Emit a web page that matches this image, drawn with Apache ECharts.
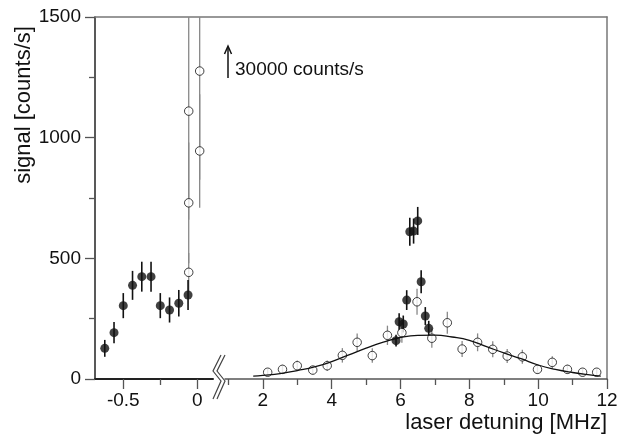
<!DOCTYPE html>
<html>
<head>
<meta charset="utf-8">
<script src="https://cdn.jsdelivr.net/npm/echarts@6/dist/echarts.min.js"></script>
<style>
  html, body { margin: 0; padding: 0; background: #fff; }
  #chart { width: 620px; height: 438px; }
</style>
</head>
<body>
<div id="chart"></div>
<script>
// left panel (near zero detuning)
const leftFilledX = [-0.625, -0.5625, -0.5, -0.4375, -0.375, -0.3125, -0.25, -0.1875, -0.125, -0.0625]
const leftFilledY = [127, 192, 304, 388, 424, 424, 304, 286, 314, 348]
const leftFilledErr = [35, 44, 52, 60, 62, 62, 52, 52, 55, 62]

const leftOpenX = [-0.058, -0.058, -0.058, 0.016, 0.016]
const leftOpenY = [442, 730, 1110, 945, 1276]
const leftOpenErr = [80, 250, 450, 235, 450]

// right panel
const rightOpenX = [2.14, 2.57, 3.00, 3.45, 3.87, 4.31, 4.74, 5.18, 5.62, 6.04, 6.48, 6.91, 7.36, 7.79, 8.24, 8.68, 9.10, 9.54, 9.98, 10.41, 10.85, 11.29, 11.70]
const rightOpenY = [28, 40, 55, 37, 55, 98, 152, 97, 181, 192, 320, 169, 233, 124, 152, 123, 95, 92, 40, 69, 40, 28, 28]
const rightOpenErr = [16, 19, 22, 18, 22, 30, 37, 30, 40, 42, 54, 39, 46, 33, 37, 33, 29, 29, 19, 25, 19, 16, 16]

const rightFilledX = [5.87, 5.96, 6.08, 6.18, 6.27, 6.38, 6.50, 6.60, 6.72, 6.82]
const rightFilledY = [159, 237, 228, 327, 610, 613, 655, 403, 261, 210]
const rightFilledErr = [24, 35, 35, 41, 58, 52, 58, 48, 37, 31]

// fitted curve
const fitX = [1.72, 2.0, 2.5, 3.0, 3.5, 4.0, 4.5, 5.0, 5.5, 6.0, 6.5, 7.0, 7.5, 8.0, 8.5, 9.0, 9.5, 10.0, 10.5, 11.0, 11.5, 11.82]
const fitY = [12, 15, 22, 35, 50, 72, 100, 128, 153, 172, 181, 182, 174, 160, 134, 108, 84, 58, 40, 27, 17, 12]

// tick labels
const leftMajorTicks = [-0.5, 0]
const leftMinorTicks = [-0.25]
const rightMajorTicks = [2, 4, 6, 8, 10, 12]
const rightMinorTicks = [1, 3, 5, 7, 9, 11]

const FONT = '"Liberation Sans", Arial, Helvetica, sans-serif'
const INK = '#111'

const toPoints = (xs, ys) => xs.map((x, i) => [x, ys[i]])
const toBars = (xs, ys, errs) => xs.map((x, i) => [x, ys[i] - errs[i], ys[i] + errs[i]])

// vertical error bar, cut at the plot frame
function barRenderer (color, width) {
  return function (params, api) {
    const cs = params.coordSys
    const top = api.coord([api.value(0), api.value(2)])
    const bot = api.coord([api.value(0), api.value(1)])
    return {
      type: 'line',
      shape: {
        x1: top[0],
        y1: Math.max(top[1], cs.y),
        x2: bot[0],
        y2: Math.min(bot[1], cs.y + cs.height)
      },
      style: { stroke: color, lineWidth: width }
    }
  }
}

function majorAxis (grid, min, max, ticks, lineColor, lineWidth) {
  return {
    gridIndex: grid,
    type: 'value',
    position: 'bottom',
    min: min,
    max: max,
    axisLine: { show: true, onZero: false, lineStyle: { color: lineColor, width: lineWidth } },
    axisTick: { show: true, length: 10, customValues: ticks, lineStyle: { color: '#555', width: 1.3 } },
    axisLabel: { customValues: ticks, margin: 12, fontSize: 19, color: INK, fontFamily: FONT },
    splitLine: { show: false }
  }
}

function minorAxis (grid, min, max, ticks) {
  return {
    gridIndex: grid,
    type: 'value',
    position: 'bottom',
    offset: 0,
    min: min,
    max: max,
    axisLine: { show: false, onZero: false },
    axisTick: { show: true, length: 6, customValues: ticks, lineStyle: { color: '#555', width: 1.3 } },
    axisLabel: { show: false },
    splitLine: { show: false }
  }
}

function frameAxis (position) {
  return {
    gridIndex: 2, type: 'value', min: 0, max: 1, position: position,
    axisLine: { show: true, onZero: false, lineStyle: { color: '#777', width: 1.5 } },
    axisTick: { show: false }, axisLabel: { show: false }, splitLine: { show: false }
  }
}

const yRange = { type: 'value', min: 0, max: 1500, interval: 500 }

const chart = echarts.init(document.getElementById('chart'))
chart.setOption({
  animation: false,
  backgroundColor: '#fff',
  grid: [
    { left: 95, top: 17, width: 118, height: 362, outerBoundsMode: 'none' },
    { left: 225, top: 17, width: 382, height: 362, outerBoundsMode: 'none' },
    { left: 95, top: 17, width: 512, height: 362, outerBoundsMode: 'none' }
  ],
  xAxis: [
    majorAxis(0, -0.691, 0.106, leftMajorTicks, '#222', 2),
    minorAxis(0, -0.691, 0.106, leftMinorTicks),
    majorAxis(1, 0.9, 12, rightMajorTicks, '#555', 1.5),
    minorAxis(1, 0.9, 12, rightMinorTicks),
    frameAxis('top')
  ],
  yAxis: [
    Object.assign({}, yRange, {
      gridIndex: 0,
      position: 'left',
      axisLine: { show: true, onZero: false, lineStyle: { color: '#222', width: 1.5 } },
      axisTick: { show: true, length: 10, lineStyle: { color: '#555', width: 1.3 } },
      minorTick: { show: true, splitNumber: 2, length: 6, lineStyle: { color: '#555', width: 1.3 } },
      axisLabel: { margin: 14, fontSize: 19, color: INK, fontFamily: FONT, formatter: (v) => String(v) },
      splitLine: { show: false }
    }),
    Object.assign({}, yRange, { gridIndex: 1, show: false, splitLine: { show: false } }),
    frameAxis('right')
  ],
  series: [
    // left panel
    {
      type: 'custom', xAxisIndex: 0, yAxisIndex: 0,
      renderItem: barRenderer('#888', 1.3),
      encode: { x: 0, y: [1, 2] },
      data: toBars(leftOpenX, leftOpenY, leftOpenErr)
    },
    {
      type: 'custom', xAxisIndex: 0, yAxisIndex: 0,
      renderItem: barRenderer(INK, 1.6),
      encode: { x: 0, y: [1, 2] },
      data: toBars(leftFilledX, leftFilledY, leftFilledErr)
    },
    {
      type: 'scatter', xAxisIndex: 0, yAxisIndex: 0,
      symbol: 'circle', symbolSize: 8.5,
      itemStyle: { color: '#fff', borderColor: INK, borderWidth: 1 },
      data: toPoints(leftOpenX, leftOpenY)
    },
    {
      type: 'scatter', xAxisIndex: 0, yAxisIndex: 0,
      symbol: 'circle', symbolSize: 9,
      itemStyle: { color: INK },
      data: toPoints(leftFilledX, leftFilledY)
    },
    // right panel
    {
      type: 'line', xAxisIndex: 2, yAxisIndex: 1,
      smooth: true, showSymbol: false,
      lineStyle: { color: INK, width: 1.3 },
      data: toPoints(fitX, fitY)
    },
    {
      type: 'custom', xAxisIndex: 2, yAxisIndex: 1,
      renderItem: barRenderer('#888', 1.3),
      encode: { x: 0, y: [1, 2] },
      data: toBars(rightOpenX, rightOpenY, rightOpenErr)
    },
    {
      type: 'scatter', xAxisIndex: 2, yAxisIndex: 1,
      symbol: 'circle', symbolSize: 8.5,
      itemStyle: { color: '#fff', borderColor: INK, borderWidth: 1 },
      data: toPoints(rightOpenX, rightOpenY)
    },
    {
      type: 'custom', xAxisIndex: 2, yAxisIndex: 1,
      renderItem: barRenderer(INK, 1.6),
      encode: { x: 0, y: [1, 2] },
      data: toBars(rightFilledX, rightFilledY, rightFilledErr)
    },
    {
      type: 'scatter', xAxisIndex: 2, yAxisIndex: 1,
      symbol: 'circle', symbolSize: 9,
      itemStyle: { color: INK },
      data: toPoints(rightFilledX, rightFilledY)
    }
  ],
  graphic: [
    // axis titles
    {
      type: 'text', x: 24, y: 105, rotation: Math.PI / 2,
      style: { text: 'signal [counts/s]', font: '22px ' + FONT, fill: INK, align: 'center', verticalAlign: 'middle' }
    },
    {
      type: 'text', x: 607, y: 423,
      style: { text: 'laser detuning [MHz]', font: '22px ' + FONT, fill: INK, align: 'right', verticalAlign: 'middle' }
    },
    // off-scale note
    { type: 'line', shape: { x1: 228, y1: 78, x2: 228, y2: 47 }, style: { stroke: INK, lineWidth: 1.5 } },
    { type: 'polyline', shape: { points: [[224.5, 54], [228, 46], [231.5, 54]] }, style: { stroke: INK, lineWidth: 1.5, fill: null } },
    {
      type: 'text', x: 235, y: 70,
      style: { text: '30000 counts/s', font: '19px ' + FONT, fill: INK, align: 'left', verticalAlign: 'middle' }
    },
    // axis break
    { type: 'polyline', shape: { points: [[221, 355], [213, 371], [221, 381], [213, 399]] }, style: { stroke: '#444', lineWidth: 1.2, fill: null } },
    { type: 'polyline', shape: { points: [[225, 355], [217, 371], [225, 381], [217, 399]] }, style: { stroke: '#444', lineWidth: 1.2, fill: null } }
  ]
})
</script>
</body>
</html>
